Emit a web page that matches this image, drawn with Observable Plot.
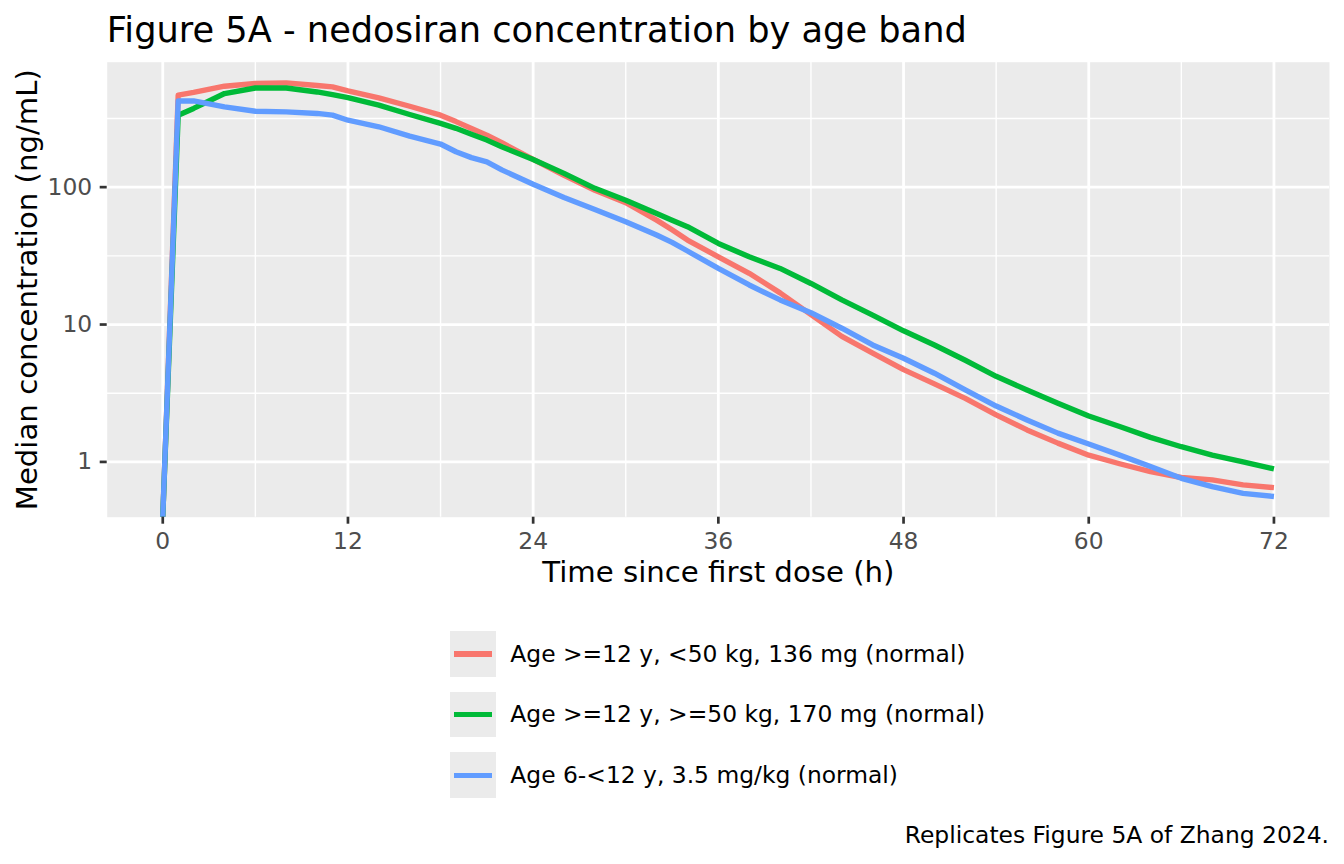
<!DOCTYPE html>
<html><head><meta charset="utf-8">
<script src="https://cdn.jsdelivr.net/npm/d3@7"></script>
<script src="https://cdn.jsdelivr.net/npm/@observablehq/plot@0.6"></script>
<style>
html,body{margin:0;padding:0;background:#fff;}
#root{position:relative;width:1344px;height:864px;overflow:hidden;font-family:"DejaVu Sans",sans-serif;color:#000;}
#title{position:absolute;left:106.7px;top:12px;font-size:35.2px;line-height:35.2px;white-space:nowrap;}
#chart{position:absolute;left:0;top:52px;}
.key{position:absolute;left:450.2px;width:45.8px;height:45.7px;background:#ebebeb;}
.key span{position:absolute;left:4px;width:37.8px;height:5.4px;top:20.15px;}
.lab{position:absolute;left:510.3px;font-size:23.4px;line-height:23.4px;white-space:nowrap;}
#caption{position:absolute;right:15px;top:823.5px;font-size:23.4px;line-height:23.4px;white-space:nowrap;}
</style></head>
<body>
<div id="root">
  <div id="title"></div>
  <div id="chart"></div>
  <div id="legend"></div>
  <div id="caption"></div>
</div>
<script>
const titleText = "Figure 5A - nedosiran concentration by age band";
const captionText = "Replicates Figure 5A of Zhang 2024.";
const xTitle = "Time since first dose (h)";
const yTitle = "Median concentration (ng/mL)";
const groups = [
  "Age >=12 y, <50 kg, 136 mg (normal)",
  "Age >=12 y, >=50 kg, 170 mg (normal)",
  "Age 6-<12 y, 3.5 mg/kg (normal)"
];
const colors = ["#F8766D", "#00BA38", "#619CFF"];
const times = [0,1,2,4,6,8,10,11,12,14,16,18,19,20,21,22,24,26,28,30,32,33,34,36,38,40,42,44,46,48,50,52,54,56,58,60,62,64,66,68,70,72];
const concA = [0,467,489,543,568,574,549,537,502,447,388,334,300,267,239,210,159,122,95,77,57.5,49,41.2,31.1,23.6,17.0,11.8,8.2,6.2,4.7,3.7,2.9,2.2,1.71,1.37,1.12,0.97,0.85,0.77,0.74,0.68,0.65];
const concB = [0,334,374,480,527,527,493,472,449,395,338,291,268,243,220,196,159,126,98,80.4,64.3,57.5,51.5,38.9,31.1,25.6,19.9,15.1,11.7,9.0,7.1,5.5,4.2,3.34,2.67,2.16,1.81,1.51,1.29,1.12,1.0,0.89];
const concC = [0,424,424,384,357,353,344,334,307,275,235,206,181,164,153,133,105,84.2,68.8,56,44.8,39.6,34.3,25.6,19.4,15.1,12.2,9.4,7.1,5.68,4.42,3.34,2.55,2.02,1.62,1.35,1.12,0.925,0.76,0.66,0.59,0.56];
const xTicks = [0,12,24,36,48,60,72];
const xMinor = [6,18,30,42,54,66];
const yTicks = [1,10,100];
const yTickLabels = ["1","10","100"];
const yMinor = [Math.sqrt(10), Math.sqrt(1000), Math.sqrt(100000)];

const series = [concA, concB, concC];
const data = [];
series.forEach((vals, g) => vals.forEach((c, i) => data.push({t: times[i], c, group: groups[g]})));

// ggplot-like 5% expansion
const [t0, t1] = d3.extent(times);
const xPad = (t1 - t0) * 0.05;
const pos = data.filter(d => d.c > 0).map(d => Math.log10(d.c));
const [l0, l1] = d3.extent(pos);
const lPad = (l1 - l0) * 0.05;

const W = 1344, H = 548;
const chart = Plot.plot({
  width: W, height: H,
  marginTop: 9.7, marginBottom: 83.3, marginLeft: 106.7, marginRight: 15,
  style: {fontFamily: "DejaVu Sans", background: "transparent", overflow: "visible"},
  x: {domain: [t0 - xPad, t1 + xPad]},
  y: {type: "log", domain: [Math.pow(10, l0 - lPad), Math.pow(10, l1 + lPad)], clamp: true},
  color: {domain: groups, range: colors},
  marks: [
    Plot.frame({fill: "#ebebeb", stroke: null}),
    Plot.gridX(xMinor, {stroke: "white", strokeOpacity: 1, strokeWidth: 1.4}),
    Plot.gridY(yMinor, {stroke: "white", strokeOpacity: 1, strokeWidth: 1.4}),
    Plot.gridX(xTicks, {stroke: "white", strokeOpacity: 1, strokeWidth: 2.8}),
    Plot.gridY(yTicks, {stroke: "white", strokeOpacity: 1, strokeWidth: 2.8}),
    Plot.line(data, {x: "t", y: "c", z: "group", stroke: "group", strokeWidth: 5.4, strokeLinecap: "butt", strokeLinejoin: "round", clip: true}),
    Plot.axisX({ticks: xTicks, tickSize: 7, tickPadding: 8, fontSize: 23.4, stroke: "#333333", fill: "#4d4d4d", strokeWidth: 2.7, label: null}),
    Plot.axisY({ticks: yTicks, tickFormat: d => yTickLabels[yTicks.indexOf(d)], tickSize: 7, tickPadding: 8, fontSize: 23.4, stroke: "#333333", fill: "#4d4d4d", strokeWidth: 2.7, label: null}),
    Plot.text([xTitle], {frameAnchor: "bottom", dy: 64.3, lineAnchor: "bottom", fontSize: 29.2, fill: "black"}),
    Plot.text([yTitle], {frameAnchor: "left", textAnchor: "middle", rotate: -90, dx: -70.2, lineAnchor: "bottom", fontSize: 29.2, fill: "black"})
  ]
});
document.getElementById("chart").appendChild(chart);

const legend = document.getElementById("legend");
const keyTops = [631, 691.7, 752.4];
groups.forEach((g, i) => {
  const k = document.createElement("div");
  k.className = "key";
  k.style.top = keyTops[i] + "px";
  const s = document.createElement("span");
  s.style.background = colors[i];
  k.appendChild(s);
  legend.appendChild(k);
  const l = document.createElement("div");
  l.className = "lab";
  l.style.top = (keyTops[i] + 11.6) + "px";
  l.textContent = g;
  legend.appendChild(l);
});
document.getElementById("title").textContent = titleText;
document.getElementById("caption").textContent = captionText;
</script>
</body></html>
